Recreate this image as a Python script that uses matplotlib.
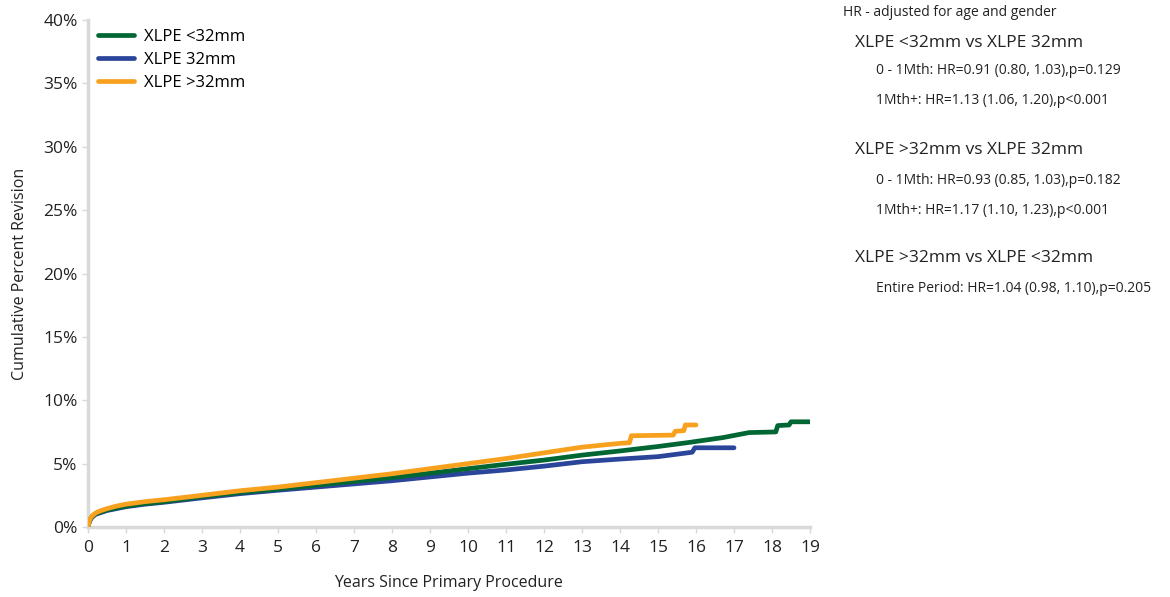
import matplotlib.pyplot as plt
import numpy as np

plt.rcParams['font.family'] = ['Open Sans', 'DejaVu Sans']

# cumulative percent revision (years, %)
yrs_lt32 = [0, 0.02, 0.05, 0.1, 0.2, 0.3, 0.5, 0.75, 1, 1.5, 2, 3, 4, 5, 6, 7, 8, 9, 10,
            11, 12, 13, 14, 15, 15.84, 16, 16.7, 17.4, 18.1, 18.15, 18.45, 18.5, 19]
pct_lt32 = [0, 0.28, 0.55, 0.8, 1.05, 1.15, 1.35, 1.5, 1.65, 1.85, 2.0, 2.4, 2.72, 3.0, 3.3,
            3.6, 3.9, 4.25, 4.6, 4.95, 5.28, 5.67, 6.0, 6.35, 6.68, 6.75, 7.05, 7.45, 7.5,
            8.0, 8.05, 8.3, 8.3]

yrs_32 = [0, 0.02, 0.05, 0.1, 0.2, 0.3, 0.5, 0.75, 1, 1.5, 2, 3, 4, 5, 6, 7, 8, 9, 10,
          11, 12, 13, 14, 15, 15.9, 15.97, 17]
pct_32 = [0, 0.25, 0.5, 0.75, 1.0, 1.1, 1.3, 1.45, 1.6, 1.8, 1.95, 2.3, 2.63, 2.9, 3.15,
          3.4, 3.65, 3.95, 4.25, 4.5, 4.8, 5.15, 5.36, 5.55, 5.9, 6.25, 6.25]

yrs_gt32 = [0, 0.02, 0.05, 0.1, 0.2, 0.3, 0.5, 0.75, 1, 1.5, 2, 3, 4, 5, 6, 7, 8, 9, 10,
            11, 12, 13, 14, 14.25, 14.3, 15.4, 15.45, 15.68, 15.72, 16]
pct_gt32 = [0, 0.3, 0.6, 0.85, 1.1, 1.25, 1.45, 1.65, 1.8, 2.0, 2.15, 2.5, 2.86, 3.15, 3.5,
            3.85, 4.2, 4.6, 5.0, 5.4, 5.85, 6.3, 6.6, 6.65, 7.2, 7.25, 7.55, 7.6, 8.05, 8.05]

green = '#006633'
blue = '#2a4599'
orange = '#f7a11f'

fig = plt.figure(figsize=(11.7, 5.97), dpi=100)
ax = fig.add_axes([88/1170, 70/597, 722/1170, 507/597])

ax.plot(yrs_32, pct_32, color=blue, lw=3.4, zorder=2, label='XLPE 32mm',
        solid_capstyle='round')
ax.plot(yrs_lt32, pct_lt32, color=green, lw=3.4, zorder=3, label='XLPE <32mm',
        solid_capstyle='round')
ax.plot(yrs_gt32, pct_gt32, color=orange, lw=3.4, zorder=4, label='XLPE >32mm',
        solid_capstyle='round')

ax.set_xlim(0, 19)
ax.set_ylim(0, 40)
ax.set_xticks(range(0, 20))
ax.set_yticks(range(0, 41, 5))
ax.set_yticklabels([f'{v}%' for v in range(0, 41, 5)])
ax.tick_params(axis='both', labelsize=12.5, colors='#d9d9d9', labelcolor='#222222',
               length=4, width=1)
ax.tick_params(axis='x', pad=5)

for s in ['top', 'right']:
    ax.spines[s].set_visible(False)
for s in ['left', 'bottom']:
    ax.spines[s].set_color('#d9d9d9')
    ax.spines[s].set_linewidth(2.5)

ax.set_xlabel('Years Since Primary Procedure', fontsize=11.5, color='#222222', labelpad=14)
ax.set_ylabel('Cumulative Percent Revision', fontsize=11.5, color='#222222', labelpad=11)

h, l = ax.get_legend_handles_labels()
order = [1, 0, 2]
leg = ax.legend([h[i] for i in order], [l[i] for i in order], loc='upper left',
                bbox_to_anchor=(91/1170, 1 - 22/597), bbox_transform=fig.transFigure,
                frameon=False, fontsize=12, handlelength=2.2, handletextpad=0.55,
                labelspacing=0.42, borderaxespad=0)

tc = '#222222'
fig.text(843/1170, 1 - 13/597, 'HR - adjusted for age and gender', fontsize=10,
         va='center', color=tc)
lines = [
    (855, 43, 'XLPE <32mm vs XLPE 32mm', 12.5),
    (876, 71, '0 - 1Mth: HR=0.91 (0.80, 1.03),p=0.129', 10),
    (876, 101, '1Mth+: HR=1.13 (1.06, 1.20),p<0.001', 10),
    (855, 150, 'XLPE >32mm vs XLPE 32mm', 12.5),
    (876, 180, '0 - 1Mth: HR=0.93 (0.85, 1.03),p=0.182', 10),
    (876, 210, '1Mth+: HR=1.17 (1.10, 1.23),p<0.001', 10),
    (855, 258, 'XLPE >32mm vs XLPE <32mm', 12.5),
    (876, 288, 'Entire Period: HR=1.04 (0.98, 1.10),p=0.205', 10),
]
for x, y, s, fs in lines:
    fig.text(x/1170, 1 - y/597, s, fontsize=fs, va='center', color=tc)

fig.savefig('out.png', dpi=100)
